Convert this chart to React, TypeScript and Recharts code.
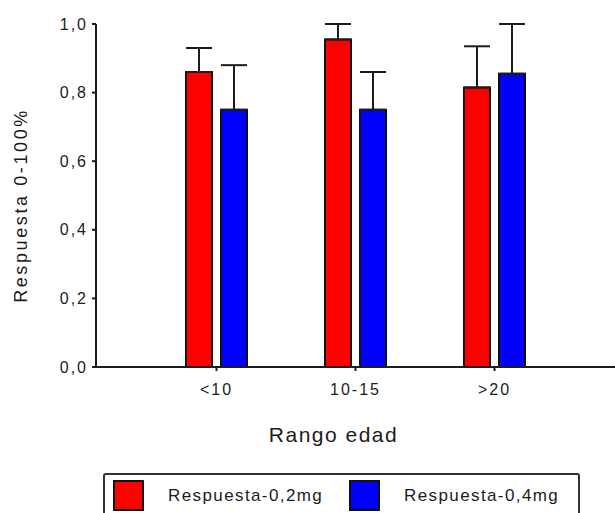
import React from 'react';
import { BarChart, Bar, XAxis, YAxis, ErrorBar, Label } from 'recharts';

const categories = ['<10', '10-15', '>20'];
const dose02 = [0.86, 0.955, 0.815];
const dose04 = [0.75, 0.75, 0.855];
const err02 = [0.07, 0.045, 0.12];
const err04 = [0.13, 0.11, 0.145];
const yTicks = [0, 0.2, 0.4, 0.6, 0.8, 1.0];

const series = [
  { key: 'r', name: 'Respuesta-0,2mg', color: '#ff0000' },
  { key: 'b', name: 'Respuesta-0,4mg', color: '#0000ff' },
];

const data = categories.map((c, i) => ({
  group: c,
  r: dose02[i],
  b: dose04[i],
  rErr: [0, err02[i]],
  bErr: [0, err04[i]],
}));

const FONT = '"Liberation Sans", Arial, sans-serif';
const INK = '#1c1c1c';

const fmt = (v: number) => v.toFixed(1).replace('.', ',');

export default function App() {
  return (
    <div style={{ position: 'absolute', left: 0, top: 0, width: 615, height: 513, overflow: 'hidden', background: '#fff', fontFamily: FONT }}>
      <BarChart
        width={615}
        height={513}
        data={data}
        margin={{ top: 24, right: 0, left: 0, bottom: 116 }}
        barSize={26}
        barGap={9}
      >
        <XAxis
          dataKey="group"
          padding={{ left: 51, right: 51 }}
          height={30}
          stroke={INK}
          strokeWidth={2}
          tickSize={4}
          tickMargin={13}
          tick={{ fill: INK, fontSize: 16, fontFamily: FONT, letterSpacing: 2 }}
        >
          <Label
            value="Rango edad"
            position="bottom"
            offset={30}
            dx={-22}
            style={{ fill: INK, fontSize: 21, fontFamily: FONT, letterSpacing: 1.5 }}
          />
        </XAxis>
        <YAxis
          width={96}
          domain={[0, 1]}
          ticks={yTicks}
          tickFormatter={fmt}
          stroke={INK}
          strokeWidth={2}
          tickSize={4}
          tickMargin={4}
          tick={{ fill: INK, fontSize: 16, fontFamily: FONT, letterSpacing: 2 }}
        >
          <Label
            value="Respuesta 0-100%"
            angle={-90}
            position="insideLeft"
            offset={21}
            dy={10}
            style={{ fill: INK, fontSize: 18, fontFamily: FONT, letterSpacing: 2.6, textAnchor: 'middle' }}
          />
        </YAxis>
        {series.map((s) => (
          <Bar key={s.key} dataKey={s.key} name={s.name} fill={s.color} stroke="#111" strokeWidth={2} isAnimationActive={false}>
            <ErrorBar dataKey={`${s.key}Err`} direction="y" width={13} stroke={INK} strokeWidth={2} isAnimationActive={false} />
          </Bar>
        ))}
      </BarChart>
      <div
        style={{
          position: 'absolute',
          left: 103,
          top: 473,
          width: 477,
          height: 60,
          border: '2px solid #333',
          borderRadius: 3,
          boxSizing: 'border-box',
        }}
      >
        {series.map((s, i) => (
          <div key={s.key} style={{ position: 'absolute', left: 8 + i * 236, top: 5, display: 'flex', alignItems: 'center' }}>
            <div style={{ width: 31, height: 31, background: s.color, border: '2px solid #111', boxSizing: 'border-box' }} />
            <span style={{ marginLeft: 24, fontSize: 17, letterSpacing: 1.4, color: INK }}>{s.name}</span>
          </div>
        ))}
      </div>
    </div>
  );
}
